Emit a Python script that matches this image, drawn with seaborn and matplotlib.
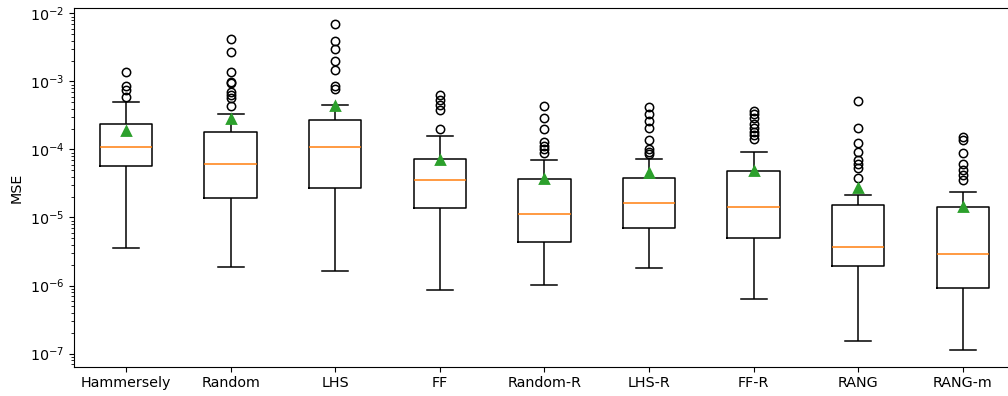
import numpy as np
import pandas as pd
import matplotlib
matplotlib.use("Agg")
import matplotlib.pyplot as plt
import seaborn as sns

methods = ["Hammersely", "Random", "LHS", "FF", "Random-R", "LHS-R", "FF-R", "RANG", "RANG-m"]
q1 = [5.68e-5, 1.94e-5, 2.76e-5, 1.38e-5, 4.29e-6, 6.89e-6, 4.97e-6, 1.92e-6, 9.04e-7]
median = [1.09e-4, 6.22e-5, 1.08e-4, 3.54e-5, 1.13e-5, 1.66e-5, 1.43e-5, 3.66e-6, 2.89e-6]
q3 = [2.38e-4, 1.78e-4, 2.70e-4, 7.3e-5, 3.62e-5, 3.75e-5, 4.84e-5, 1.53e-5, 1.42e-5]
whisker_low = [3.57e-6, 1.84e-6, 1.66e-6, 8.61e-7, 1.01e-6, 1.78e-6, 6.44e-7, 1.52e-7, 1.11e-7]
whisker_high = [5.0e-4, 3.30e-4, 4.48e-4, 1.60e-4, 7.03e-5, 7.28e-5, 9.23e-5, 2.11e-5, 2.41e-5]
means = [1.86e-4, 2.79e-4, 4.34e-4, 7.1e-5, 3.7e-5, 4.44e-5, 4.9e-5, 2.67e-5, 1.43e-5]
outliers_hammersely = [1.37e-3, 8.6e-4, 7.45e-4, 5.94e-4]
outliers_random = [4.24e-3, 2.72e-3, 1.38e-3, 9.9e-4, 9.6e-4, 7.03e-4, 6.29e-4, 5.62e-4, 4.3e-4]
outliers_lhs = [6.89e-3, 3.92e-3, 2.96e-3, 1.99e-3, 1.48e-3, 8.53e-4, 7.87e-4]
outliers_ff = [6.29e-4, 5.31e-4, 4.48e-4, 3.78e-4, 1.99e-4]
outliers_random_r = [4.34e-4, 2.88e-4, 1.99e-4, 1.27e-4, 1.13e-4, 1.01e-4, 8.8e-5]
outliers_lhs_r = [4.22e-4, 3.38e-4, 2.6e-4, 2.08e-4, 1.37e-4, 1.03e-4, 9.23e-5, 8.7e-5]
outliers_ff_r = [3.7e-4, 3.3e-4, 2.86e-4, 2.36e-4, 2.04e-4, 1.82e-4, 1.62e-4, 1.45e-4]
outliers_rang = [5.19e-4, 2.1e-4, 1.25e-4, 9.04e-5, 6.97e-5, 6.22e-5, 5.26e-5, 3.82e-5]
outliers_rang_m = [1.53e-4, 1.37e-4, 8.93e-5, 6.22e-5, 4.97e-5, 4.19e-5, 3.6e-5]
outliers = [outliers_hammersely, outliers_random, outliers_lhs, outliers_ff,
            outliers_random_r, outliers_lhs_r, outliers_ff_r, outliers_rang, outliers_rang_m]

# Rebuild per-method samples whose quartiles/whiskers/fliers match the read summary values
rows = []
for i, m in enumerate(methods):
    vals = ([whisker_low[i]] + [q1[i]] * 20 + [median[i]] * 20 + [q3[i]] * 20
            + [whisker_high[i]] + list(outliers[i]))
    rows += [(m, v) for v in vals]
df = pd.DataFrame(rows, columns=["method", "MSE"])

plt.rcParams["font.size"] = 10.3
fig = plt.figure(figsize=(10.08, 3.96), dpi=100)
ax = fig.add_axes([0.0731, 0.074, 0.934, 0.905])

sns.boxplot(data=df, x="method", y="MSE", order=methods, ax=ax, width=0.5,
            fill=False, color="black", linecolor="black", linewidth=1.1, whis=1.5,
            medianprops=dict(color="#ff7f0e", linewidth=1.1),
            flierprops=dict(marker="o", markerfacecolor="none", markeredgecolor="black",
                            markersize=6, markeredgewidth=1.1))
sns.pointplot(x=methods, y=means, order=methods, ax=ax, linestyle="none", marker="^",
              color="#2ca02c", markersize=6, errorbar=None)

ax.set_yscale("log")
ax.set_ylim(6.4e-8, 1.19e-2)
ax.set_xlim(-0.5, 8.5)
ax.set_xlabel("")
ax.set_ylabel("MSE")
ax.tick_params(axis="both", labelsize=10.3)

fig.savefig("out.png", dpi=100)
